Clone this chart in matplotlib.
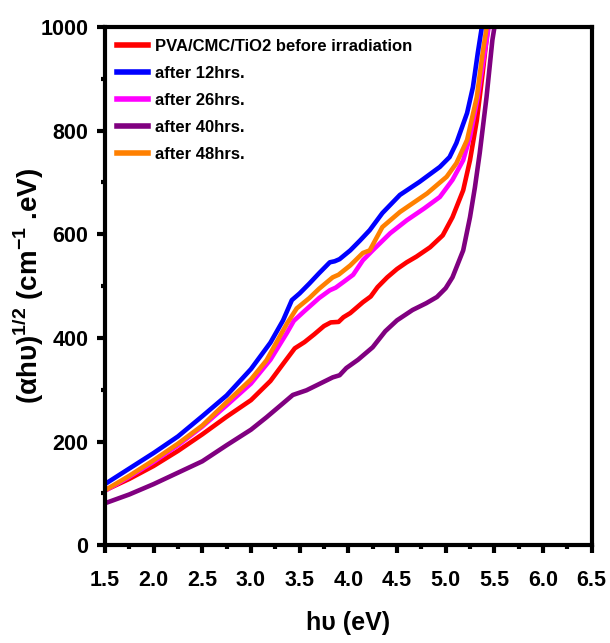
import matplotlib
matplotlib.use("Agg")
import matplotlib.pyplot as plt
from matplotlib.ticker import MultipleLocator
from matplotlib import font_manager

# ---- data ----
labels = ["PVA/CMC/TiO2 before irradiation", "after 12hrs.", "after 26hrs.",
          "after 40hrs.", "after 48hrs."]
colors = ["#ff0000", "#0000ff", "#ff00ff", "#800080", "#ff8000"]

x_before = [1.5, 1.75, 2.0, 2.25, 2.5, 2.75, 3.0, 3.2, 3.35, 3.45, 3.55, 3.65, 3.75, 3.82,
            3.9, 3.95, 4.02, 4.15, 4.23, 4.3, 4.4, 4.5, 4.6, 4.7, 4.84, 4.97, 5.07, 5.18,
            5.25, 5.32, 5.38, 5.44]
y_before = [106, 128, 153, 182, 214, 248, 280, 317, 355, 380, 392, 407, 423, 430,
            431, 440, 448, 469, 480, 498, 517, 533, 546, 557, 575, 598, 633, 685,
            743, 820, 911, 1010]

x_12 = [1.5, 1.75, 2.0, 2.25, 2.5, 2.75, 3.0, 3.2, 3.33, 3.42, 3.5, 3.6, 3.7, 3.81,
        3.86, 3.91, 4.02, 4.12, 4.22, 4.35, 4.53, 4.73, 4.94, 5.04, 5.11, 5.22, 5.28,
        5.33, 5.38]
y_12 = [118, 148, 178, 210, 249, 289, 340, 391, 434, 473, 486, 505, 525, 546,
        548, 552, 569, 588, 608, 641, 676, 701, 730, 749, 776, 834, 884, 950, 1010]

x_26 = [1.5, 1.75, 2.0, 2.25, 2.5, 2.75, 3.0, 3.2, 3.37, 3.44, 3.55, 3.7, 3.81, 3.87,
        3.95, 4.05, 4.15, 4.25, 4.43, 4.6, 4.78, 4.94, 5.07, 5.18, 5.25, 5.33, 5.4, 5.45]
y_26 = [105, 132, 161, 193, 229, 270, 312, 358, 410, 433, 452, 477, 492, 497,
        508, 522, 550, 569, 602, 627, 650, 672, 705, 743, 788, 865, 950, 1010]

x_40 = [1.5, 1.75, 2.0, 2.25, 2.5, 2.75, 3.0, 3.16, 3.33, 3.43, 3.57, 3.7, 3.84, 3.91,
        3.98, 4.1, 4.25, 4.38, 4.5, 4.66, 4.8, 4.91, 5.0, 5.07, 5.18, 5.25, 5.3, 5.35,
        5.42, 5.48, 5.51]
y_40 = [81, 98, 118, 140, 162, 193, 223, 247, 274, 290, 299, 311, 324, 328,
        342, 358, 382, 413, 434, 454, 467, 479, 496, 517, 569, 633, 690, 757,
        865, 975, 1010]

x_48 = [1.5, 1.75, 2.0, 2.25, 2.5, 2.75, 3.0, 3.16, 3.37, 3.47, 3.6, 3.7, 3.84, 3.9,
        4.02, 4.15, 4.22, 4.35, 4.53, 4.81, 5.01, 5.11, 5.22, 5.32, 5.38, 5.43]
y_48 = [106, 134, 164, 196, 231, 276, 320, 357, 428, 457, 477, 495, 517, 522,
        540, 564, 569, 614, 643, 679, 711, 737, 782, 865, 950, 1010]

series = [(x_before, y_before), (x_12, y_12), (x_26, y_26), (x_40, y_40), (x_48, y_48)]

xticks = [1.5, 2.0, 2.5, 3.0, 3.5, 4.0, 4.5, 5.0, 5.5, 6.0, 6.5]
yticks = [0, 200, 400, 600, 800, 1000]

# ---- style ----
avail = {f.name for f in font_manager.fontManager.ttflist}
fam = [f for f in ["Liberation Sans Narrow", "Liberation Sans", "DejaVu Sans"] if f in avail]
plt.rcParams["font.family"] = fam
plt.rcParams["font.weight"] = "bold"
plt.rcParams["mathtext.fontset"] = "custom"
plt.rcParams["mathtext.rm"] = fam[0] + ":bold"
plt.rcParams["mathtext.bf"] = fam[0] + ":bold"

fig = plt.figure(figsize=(6.1, 6.43), dpi=100)
ax = fig.add_axes([0.172, 0.152, 0.798, 0.806])

order = [3, 0, 2, 4, 1]
lines = {}
for i in order:
    xs, ys = series[i]
    ln, = ax.plot(xs, ys, color=colors[i], lw=3.3, solid_joinstyle="round")
    lines[i] = ln

ax.set_xlim(1.5, 6.5)
ax.set_ylim(0, 1000)
ax.set_xticks(xticks)
ax.set_xticklabels([f"{t:.1f}" for t in xticks])
ax.set_yticks(yticks)
ax.xaxis.set_minor_locator(MultipleLocator(0.25))
ax.yaxis.set_minor_locator(MultipleLocator(100))

for s in ax.spines.values():
    s.set_linewidth(3)
ax.tick_params(which="major", direction="out", length=6, width=3, labelsize=15.5, pad=6)
ax.tick_params(which="minor", direction="out", length=3, width=3)
ax.tick_params(axis="x", pad=12)
for t in ax.get_xticklabels() + ax.get_yticklabels():
    t.set_fontweight("bold")

ax.set_xlabel("h\u03c5 (eV)", fontsize=18, fontweight="bold", labelpad=14)
ax.set_ylabel("(\u03b1h\u03c5)$^{\\mathbf{1/2}}$ (cm$^{\\mathbf{-1}}$ .eV)",
              fontsize=20, fontweight="bold")
ax.yaxis.set_label_coords(-0.122, 0.5)

leg = ax.legend([lines[i] for i in range(5)], labels, loc="upper left",
                frameon=False, fontsize=12, handlelength=1.9, handletextpad=0.4,
                labelspacing=0.72, borderaxespad=0.3, bbox_to_anchor=(0.0, 1.0))
for t in leg.get_texts():
    t.set_fontweight("bold")
for h in leg.get_lines():
    h.set_linewidth(4)

fig.savefig("out.png", dpi=100)
